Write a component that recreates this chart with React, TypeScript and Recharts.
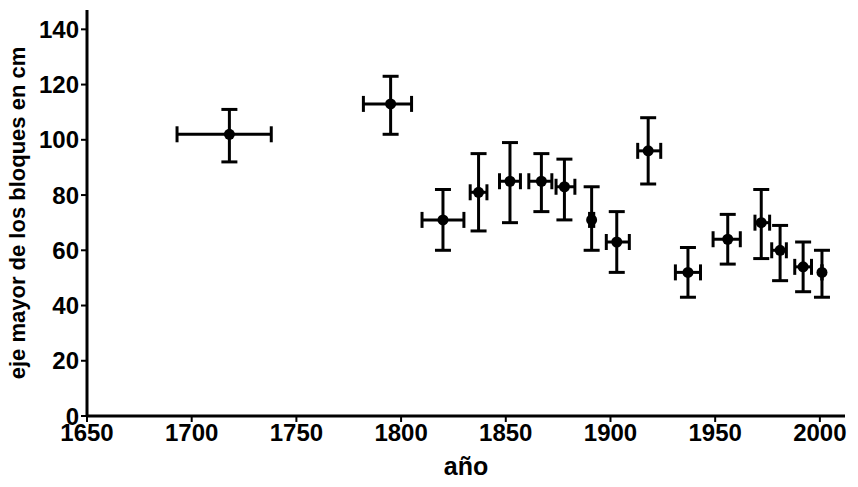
import React from "react";
import { ScatterChart, Scatter, XAxis, YAxis, ErrorBar } from "recharts";

const years = [1718, 1795, 1820, 1837, 1852, 1867, 1878, 1891, 1903, 1918, 1937, 1956, 1972, 1981, 1992, 2001];
const values = [102, 113, 71, 81, 85, 85, 83, 71, 63, 96, 52, 64, 70, 60, 54, 52];
const xLow = [1693, 1782, 1810, 1833, 1847, 1861, 1874, 1890, 1898, 1913, 1931, 1949, 1969, 1977, 1988, 2001];
const xHigh = [1738, 1805, 1830, 1841, 1857, 1872, 1883, 1892, 1909, 1924, 1943, 1962, 1976, 1984, 1996, 2001];
const yLow = [92, 102, 60, 67, 70, 74, 71, 60, 52, 84, 43, 55, 57, 49, 45, 43];
const yHigh = [111, 123, 82, 95, 99, 95, 93, 83, 74, 108, 61, 73, 82, 69, 63, 60];
const xTicks = [1650, 1700, 1750, 1800, 1850, 1900, 1950, 2000];
const yTicks = [0, 20, 40, 60, 80, 100, 120, 140];

const data = years.map((x, i) => ({
  x,
  y: values[i],
  ex: [x - xLow[i], xHigh[i] - x],
  ey: [values[i] - yLow[i], yHigh[i] - values[i]],
}));

const tickStyle = { fill: "#000", fontSize: 24, fontWeight: 700, fontFamily: "Liberation Sans, Arial, sans-serif" };

export default function App() {
  return (
    <div style={{ position: "absolute", left: 0, top: 0, background: "#fff" }}>
      <ScatterChart width={858} height={487} margin={{ top: 10, right: 13, bottom: 41, left: 27 }}>
        <XAxis
          type="number"
          dataKey="x"
          domain={[1650, 2012]}
          ticks={xTicks}
          tick={tickStyle}
          axisLine={{ stroke: "#000", strokeWidth: 3 }}
          tickLine={{ stroke: "#000", strokeWidth: 2 }}
          tickSize={6}
          allowDataOverflow
          label={{ value: "año", position: "insideBottom", offset: -29, style: { ...tickStyle, fontSize: 25 } }}
        />
        <YAxis
          type="number"
          dataKey="y"
          domain={[0, 147]}
          ticks={yTicks}
          width={60}
          tick={tickStyle}
          axisLine={{ stroke: "#000", strokeWidth: 3 }}
          tickLine={{ stroke: "#000", strokeWidth: 2 }}
          tickSize={6}
          allowDataOverflow
          label={{ value: "eje mayor de los bloques en cm", angle: -90, position: "insideLeft", offset: -10, style: { ...tickStyle, fontSize: 22, textAnchor: "middle" } }}
        />
        <Scatter data={data} fill="#000" isAnimationActive={false} shape={(p: any) => <circle cx={p.cx} cy={p.cy} r={5.5} fill="#000" />}>
          <ErrorBar dataKey="ey" direction="y" width={8} stroke="#000" strokeWidth={3} />
          <ErrorBar dataKey="ex" direction="x" width={8} stroke="#000" strokeWidth={3} />
        </Scatter>
      </ScatterChart>
    </div>
  );
}
